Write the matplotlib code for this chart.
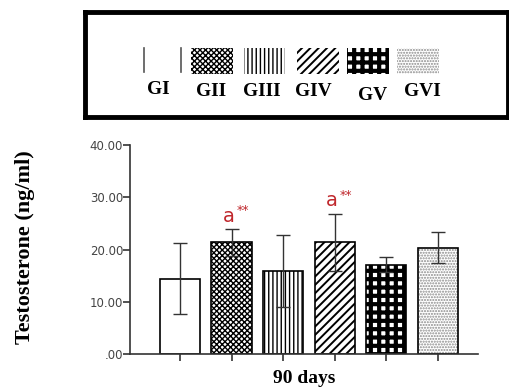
import numpy as np
import matplotlib.pyplot as plt
from matplotlib.patches import Rectangle

# Testosterone values (mean and error)
groups = ['GI', 'GII', 'GIII', 'GIV', 'GV', 'GVI']
means = [14.4, 21.5, 15.9, 21.5, 17.1, 20.4]
err_up = [6.9, 2.5, 6.9, 5.4, 1.4, 2.9]
err_down = [6.7, 2.8, 6.9, 5.5, 1.4, 2.9]
signif = ['', 'a', '', 'a', '', '']
yticks = [0, 10, 20, 30, 40]
ytick_labels = ['.00', '10.00', '20.00', '30.00', '40.00']

hatches = ['', 'xxxxxx', '||||', '////', '++', '......']
hatch_colors = ['black', 'black', 'black', 'black', 'black', '#8a8a8a']
hatch_lw = [1.0, 1.0, 1.0, 1.4, 3.0, 1.0]

serif = ['Liberation Serif', 'DejaVu Serif']
red = '#c0282d'

fig = plt.figure(figsize=(5.1, 3.9), dpi=100)


def hatched_rect(ax, x, y, w, h, i, edge=True):
    with plt.rc_context({'hatch.linewidth': hatch_lw[i]}):
        r = Rectangle((x, y), w, h, facecolor='white', edgecolor=hatch_colors[i],
                      hatch=hatches[i], linewidth=0)
        if hasattr(r, 'set_hatch_linewidth'):
            r.set_hatch_linewidth(hatch_lw[i])
        ax.add_patch(r)
    if edge:
        ax.add_patch(Rectangle((x, y), w, h, facecolor='none', edgecolor='black',
                               linewidth=1.2))


# main bar chart
ax = fig.add_axes([0.255, 0.092, 0.682, 0.536])
x = np.arange(len(groups))
w = 0.78
for i in range(len(groups)):
    hatched_rect(ax, x[i] - w / 2, 0, w, means[i], i)
ax.errorbar(x, means, yerr=[err_down, err_up], fmt='none', ecolor='#333333',
            elinewidth=1.0, capsize=5, capthick=1.0)
for i, s in enumerate(signif):
    if s:
        top = means[i] + err_up[i]
        ax.text(x[i] - 0.05, top + 0.6, s, color=red, fontsize=14,
                ha='center', va='bottom')
        ax.text(x[i] + 0.1, top + 2.2, '**', color=red, fontsize=9,
                ha='left', va='bottom')

ax.set_xlim(-0.97, 5.78)
ax.set_ylim(0, 40)
ax.set_xticks(x)
ax.set_xticklabels([])
ax.set_yticks(yticks)
ax.set_yticklabels(ytick_labels, fontsize=8.5, color='#444444')
ax.tick_params(axis='both', direction='out', length=5, width=1.2, color='#333333')
ax.tick_params(axis='y', pad=0)
for sp in ['top', 'right']:
    ax.spines[sp].set_visible(False)
for sp in ['left', 'bottom']:
    ax.spines[sp].set_linewidth(1.2)
    ax.spines[sp].set_color('#333333')
ax.set_xlabel('90 days', fontsize=14, fontweight='bold', family=serif, labelpad=3)
fig.text(0.049, 0.367, 'Testosterone (ng/ml)', rotation=90, fontsize=16,
         fontweight='bold', family=serif, ha='center', va='center')

# legend box drawn as its own axes
lax = fig.add_axes([0.167, 0.70, 0.83, 0.268])
lax.set_xlim(83, 510)
lax.set_ylim(118, 12)
lax.set_xticks([])
lax.set_yticks([])
for sp in lax.spines.values():
    sp.set_linewidth(3.5)
patch_left = [142, 190, 243, 297, 347, 398]
label_x = [157, 210, 261, 313, 373, 423]
label_y = [90, 92, 92, 92, 96, 92]
for i in range(len(groups)):
    if i == 0:
        lax.plot([142, 142], [48, 72], color='#555555', lw=1.2)
        lax.plot([180, 180], [48, 72], color='#555555', lw=1.2)
    else:
        hatched_rect(lax, patch_left[i], 48, 42, 26, i, edge=False)
    lax.text(label_x[i], label_y[i], groups[i], fontsize=14, fontweight='bold',
             family=serif, ha='center', va='center')

fig.savefig('out.png', dpi=100)
